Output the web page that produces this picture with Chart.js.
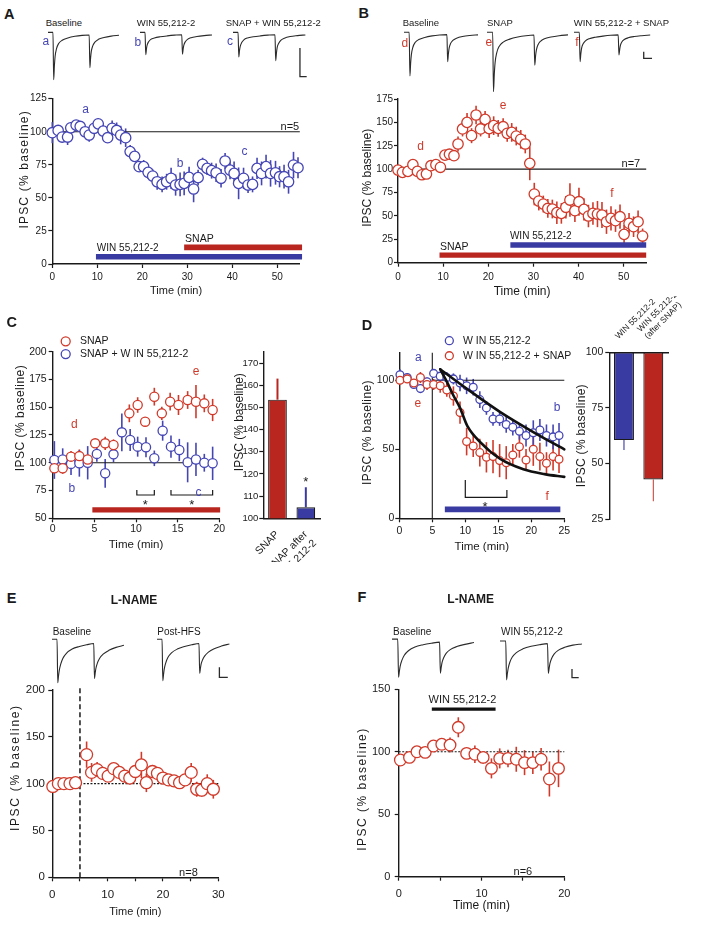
<!DOCTYPE html>
<html>
<head>
<meta charset="utf-8">
<title>IPSC figure</title>
<script src="https://cdn.jsdelivr.net/npm/chart.js@4.4.1/dist/chart.umd.min.js"></script>
<style>
  html, body { margin: 0; padding: 0; background: #fff; }
  #page { position: relative; width: 714px; height: 926px; overflow: hidden; background: #fff; font-family: 'Liberation Sans', Arial, Helvetica, sans-serif; color: #1a1a1a; }
  #page canvas { position: absolute; }
  .lbl { position: absolute; white-space: nowrap; line-height: 1; }
</style>
</head>
<body>
<div id="page"></div>
<script>
// ================= DATA =================
// Panel A : WIN 55,212-2 then SNAP (blue)
const aTime = [0,1.3,2.2,3.4,4.1,5.3,6.2,7.3,8.2,9.3,10.2,11.3,12.3,13.3,14.3,15.2,16.3,17.3,18.3,19.3,20.3,21.3,22.3,23.3,24.4,25.4,26.4,27.4,28.4,29.3,30.4,31.4,32.4,33.4,34.4,35.4,36.4,37.5,38.4,39.5,40.4,41.4,42.5,43.5,44.5,45.5,46.5,47.5,48.5,49.6,50.5,51.5,52.5,53.6,54.6];
const aIPSC = [99.3,101,96,96,103,105,104,100,97.5,102.6,106,100.5,95.5,102.6,101,97.5,95.5,85,81.4,73.6,73.6,69.3,66.5,62.2,60.2,62.2,64.8,59.7,60.2,61,65.5,56.7,65.3,75.4,72.3,70.6,69,64.8,77.9,71,68.5,61,64.8,59.7,60.2,72.3,68.5,73.6,68.5,69,66,66,62.2,74.8,72.8];
const aSEM = [8,4,4,6,4,3,4,3,5,4,4,5,4,6,6,7,7,5,4,4,5,5,5,6,6,6,8,8,9,9,8,10,6,5,5,6,7,7,6,7,9,12,8,6,6,8,9,9,10,9,8,9,9,10,8];
const aYTicks = [0,25,50,75,100,125];
const aXTicks = [0,10,20,30,40,50];
const aWinPeriod = [9.7, 55.5];
const aSnapPeriod = [29.3, 55.5];

// Panel B : SNAP then WIN 55,212-2 (red)
const bTime = [0,1,2.2,3.3,4.3,5.3,6.3,7.3,8.4,9.4,10.4,11.4,12.4,13.3,14.3,15.3,16.3,17.3,18.3,19.3,20.2,21.2,22.2,23.3,24.2,25.2,26.2,27.2,28.2,29.2,30.2,31.2,32.2,33.2,34.2,35.2,36.2,37.2,38.1,39.2,40.1,41.2,42.2,43.2,44.2,45.2,46.2,47.2,48.2,49.2,50.1,51.2,52.2,53.2,54.2];
const bIPSC = [99,96.6,97.6,104.8,97.6,94,94.8,103.7,104.8,102,115,116,114.4,126.9,143,150,135.8,157.9,143,153.2,143.3,146.5,143.6,145.4,138.3,139.3,135.4,131.9,126.9,106.2,73.4,65.9,62.7,58,57.4,53.5,52.7,59.2,67,55.6,65.2,57,49.9,52.7,52,51,43.8,47.4,44.9,49.2,30.3,42,38.5,43.8,28.5];
const bSEM = [4,4,3,4,4,5,4,4,4,4,4,5,5,8,8,10,8,10,8,9,10,10,9,9,9,10,10,10,10,18,12,10,9,10,10,12,11,12,18,12,15,12,12,12,14,14,13,13,12,13,10,11,11,12,8];
const bYTicks = [0,25,50,75,100,125,150,175];
const bXTicks = [0,10,20,30,40,50];
const bSnapPeriod = [9.2, 55];
const bWinPeriod = [24.9, 55];

// Panel C
const cSnapTime = [0.2,1.2,2.2,3.2,4.2,5.1,6.3,7.3,9.2,10.2,11.1,12.2,13.1,14.1,15.1,16.2,17.2,18.2,19.2];
const cSnapIPSC = [95,95,105.5,106,103,117.5,117.5,116,144.5,152,137,159.5,144.5,155,152,156.5,155,153.5,147.5];
const cSnapSEM = [4,5,5,6,5,4,6,5,8,7,4,8,6,8,9,8,15,8,10];
const cComboTime = [0.2,1.2,2.2,3.2,4.2,5.3,6.3,7.3,8.3,9.3,10.2,11.2,12.2,13.2,14.2,15.2,16.2,17.2,18.2,19.2];
const cComboIPSC = [102.5,103,99,99.5,100,108,90.5,107.6,127.4,120.5,114.5,114,104,128.9,114.5,111.5,100.4,103,100,99.5];
const cComboSEM = [17,10,10,12,15,7,13,7,17,10,9,9,7,9,10,10,18,15,8,15];
const cYTicks = [50,75,100,125,150,175,200];
const cXTicks = [0,5,10,15,20];
const cSnapPeriod = [4.76, 20.1];
const cCompare1 = [10.1, 12.2];
const cCompare2 = [14.2, 19.2];
// Panel C bars
const cBarLabels = ['SNAP', ['SNAP after', 'WIN 55,212-2']];
const cBarValues = [153.5, 105];
const cBarSEM = [9.5, 9];
const cBarTicks = [100,110,120,130,140,150,160,170];

// Panel D
const dTime = [0.1,1.2,2.2,3.2,4.2,5.2,6.2,7.2,8.2,9.2,10.2,11.2,12.2,13.2,14.2,15.2,16.2,17.2,18.2,19.2,20.3,21.3,22.3,23.3,24.2];
const dWinIPSC = [104,102,97,94,99,105,103,102,101,98,96,95,86,80,72,72,68,66,63,60,62,64,60,59,60];
const dWinSEM = [4,3,3,3,3,3,3,4,4,6,6,6,6,5,5,5,6,6,6,8,9,8,8,9,9];
const dWinSnapIPSC = [100,101,98,102,97,97,96,93,88.6,76.6,55.6,52.4,47.6,44.2,44.7,41.8,40.3,45.9,51.9,42.3,50,44.7,39.9,44.7,42.8];
const dWinSnapSEM = [3,3,3,4,4,4,5,5,7,8,10,8,10,11,12,12,12,8,8,8,12,10,8,10,10];
const dFitWinTime = [6.2,10.2,15.3,20.3,25];
const dFitWinIPSC = [108,94,77,62.5,50];
const dFitWinSnapTime = [6.2,7.2,8.2,9.2,10.3,12.3,15.3,18.8,22,25];
const dFitWinSnapIPSC = [108,99,89,80,67,55,43,35.5,32,30];
const dYTicks = [0,50,100];
const dXTicks = [0,5,10,15,20,25];
const dWinPeriod = [6.9, 24.4];
const dCompare = [10, 16.3];
// Panel D bars
const dBarLabels = ['WIN 55,212-2', ['WIN 55,212-2', '(after SNAP)']];
const dBarValues = [60.5, 42.8];
const dBarSEM = [4.5, 9.8];
const dBarTicks = [25,50,75,100];

// Panel E (L-NAME, HFS)
const eTime = [0.1,1.1,2.1,3.2,4.2,6.2,7.1,8.1,9.1,10.1,11.1,12.1,13.1,14,15,16.1,17,18.1,19,20,21,22,23,24,25.1,26.1,27,28,29.1];
const eIPSC = [97,100,100,100,101,131,112,115,111,108,116,112,108,106,113,120,101,113,111,106,104,103,101,104,112,94,93,100,94];
const eSEM = [3,3,3,3,3,14,10,8,7,6,6,6,6,6,5,14,10,7,6,6,6,6,6,5,10,8,7,10,10];
const eYTicks = [0,50,100,150,200];
const eXTicks = [0,5,10,15,20,25,30];
const eXLabels = [0,10,20,30];
const eHFSTime = 5;

// Panel F (L-NAME, WIN)
const fTime = [0.2,1.3,2.2,3.2,4.2,5.2,6.2,7.2,8.2,9.2,10.2,11.2,12.2,13.2,14.2,15.2,16.2,17.2,18.2,19.3];
const fIPSC = [93.4,95.5,100,99.5,104.6,106,105.4,119.6,98.7,98,95.5,86.7,94.7,94.7,94,91.3,91.3,94,78.2,86.7];
const fSEM = [3,3,3,3,3,4,6,8,4,7,5,8,8,7,10,10,9,9,14,15];
const fYTicks = [0,50,100,150];
const fXTicks = [0,5,10,15,20];
const fXLabels = [0,10,20];
const fWinPeriod = [4.0, 11.7];

// Example IPSC traces (paired pulses, relative current vs time in sweep)
const traceTime = [0,7,8,9,10,12,15,20,28,38,48,58,59,60,61,63,66,71,79,89,100];
const trA_a = [2,2,-100,-70,-50,-33,-22,-15,-10,-6.5,-4.5,-3.5,-74,-53,-39,-27,-19,-13,-9,-6,-4];
const trA_b = [2,2,-46,-33,-25,-18,-13,-10,-7.5,-5.5,-4,-3,-45,-33,-25,-18,-13,-9.5,-7,-5,-3.5];
const trA_c = [2,2,-51,-37,-28,-20,-14,-10,-7.5,-5.5,-4,-3,-59,-43,-31,-22,-15,-10.5,-7,-5,-3.5];
const trB_d = [2,2,-100,-70,-50,-33,-22,-15,-10,-6.5,-4.5,-3.5,-67,-48,-35,-24,-17,-12,-8,-5.5,-4];
const trB_e = [2,2,-137,-96,-69,-46,-31,-21,-14,-9,-6,-4.5,-75,-53,-39,-27,-19,-13,-9,-6,-4];
const trB_f = [2,2,-67,-48,-35,-25,-18,-13,-9.5,-7,-5,-4,-51,-38,-28,-20,-15,-11,-8,-6,-4.5];
const trE_base = [2,2,-100,-85,-72,-57,-43,-31,-21,-15,-11,-8,-90,-77,-66,-54,-43,-33,-24,-17,-12];
const trE_post = [2,2,-95,-81,-68,-54,-41,-30,-21,-15,-11,-8,-78,-66,-56,-46,-37,-28,-20,-14,-9];
const trF_base = [2,2,-100,-84,-70,-55,-41,-29,-19,-13,-9,-6,-89,-74,-61,-48,-36,-26,-18,-12,-7];
const trF_win = [-3,-3,-107,-90,-76,-60,-46,-34,-24,-17,-13,-10,-90,-76,-63,-50,-38,-28,-20,-14,-11];

// ================= STYLE =================
const FONT = "'Liberation Sans', Arial, Helvetica, sans-serif";
const INK = '#1a1a1a';
const BLUE = '#4545b4';
const RED = '#d03a2a';
const BLUE_BAR = '#3a3aa3';
const RED_BAR = '#b8261f';

// ---- patch: letter spacing / offset for axis titles ----
const _drawTitle = Chart.Scale.prototype.drawTitle;
Chart.Scale.prototype.drawTitle = function () {
  const ctx = this.ctx;
  ctx.save();
  if (this._ls) { try { ctx.letterSpacing = this._ls; } catch (e) {} }
  if (this._tdx || this._tdy) ctx.translate(this._tdx || 0, this._tdy || 0);
  _drawTitle.apply(this, arguments);
  ctx.restore();
};

// ---- plugin: error bars, notes, legend keys ----
const extras = {
  id: 'extras',
  beforeDatasetsDraw(chart) {
    const ctx = chart.ctx;
    chart.data.datasets.forEach((ds, i) => {
      if (!ds.errorBars) return;
      const meta = chart.getDatasetMeta(i);
      const ys = chart.scales[meta.yAxisID];
      ctx.save();
      ctx.lineWidth = ds.errorWidth || 1.6;
      meta.data.forEach((el, j) => {
        const e = ds.errorBars[j];
        if (!e) return;
        const raw = ds.data[j];
        const v = ds.errorValues ? ds.errorValues[j] : (typeof raw === 'object' ? raw.y : raw);
        const dir = ds.errorDir || 'both';
        const y1 = ys.getPixelForValue(dir === 'down' ? v : v + e);
        const y2 = ys.getPixelForValue(dir === 'up' ? v : v - e);
        ctx.strokeStyle = Array.isArray(ds.errorColor) ? ds.errorColor[j] : (ds.errorColor || ds.borderColor);
        ctx.beginPath();
        ctx.moveTo(el.x, y1);
        ctx.lineTo(el.x, y2);
        ctx.stroke();
      });
      ctx.restore();
    });
  },
  afterDatasetsDraw(chart, args, opts) {
    const ctx = chart.ctx, xs = chart.scales.x, ys = chart.scales.y;
    (opts.keys || []).forEach(k => {
      const px = xs.getPixelForValue(k.x), py = ys.getPixelForValue(k.y);
      ctx.save();
      ctx.beginPath();
      ctx.arc(px, py, k.r, 0, Math.PI * 2);
      ctx.fillStyle = '#fff';
      ctx.fill();
      ctx.lineWidth = 1.3;
      ctx.strokeStyle = k.color;
      ctx.stroke();
      ctx.font = k.size + 'px ' + FONT;
      ctx.fillStyle = INK;
      ctx.textAlign = 'left';
      ctx.textBaseline = 'middle';
      ctx.fillText(k.text, xs.getPixelForValue(k.tx), py);
      ctx.restore();
    });
    (opts.notes || []).forEach(n => {
      ctx.save();
      ctx.font = (n.bold ? 'bold ' : '') + (n.size || 11) + 'px ' + FONT;
      ctx.fillStyle = n.color || INK;
      ctx.textAlign = n.align || 'center';
      ctx.textBaseline = 'middle';
      ctx.fillText(n.text, xs.getPixelForValue(n.x), ys.getPixelForValue(n.y));
      ctx.restore();
    });
  }
};
Chart.register(extras);

// ================= HELPERS =================
const page = document.getElementById('page');
function addCanvas(box) {
  const c = document.createElement('canvas');
  c.width = box.w; c.height = box.h;
  c.style.left = box.x + 'px'; c.style.top = box.y + 'px';
  c.style.width = box.w + 'px'; c.style.height = box.h + 'px';
  page.appendChild(c);
  return c;
}
function pts(xs, ys) { return xs.map((x, i) => ({ x: x, y: ys[i] })); }
function seg(x0, x1, y) { return [{ x: x0, y: y }, { x: x1, y: y }]; }
function vseg(x, y0, y1) { return [{ x: x, y: y0 }, { x: x, y: y1 }]; }
function ptsDS(xs, ys, errs, color, r, order) {
  return { data: pts(xs, ys), errorBars: errs, borderColor: color, backgroundColor: '#fff',
    pointRadius: r, pointBorderWidth: 1.3, pointBackgroundColor: '#fff', pointBorderColor: color,
    showLine: false, clip: false, order: order };
}
function lineDS(data, color, width, extra) {
  return Object.assign({ data: data, borderColor: color, borderWidth: width, pointRadius: 0,
    showLine: true, fill: false, order: 5, borderCapStyle: 'butt', clip: false, tension: 0 }, extra || {});
}
function axisLin(o) {
  const vertical = o.pos === 'left';
  return {
    type: 'linear', position: o.pos, min: o.min, max: o.max,
    afterBuildTicks: s => { s.ticks = o.ticks.map(v => ({ value: v })); },
    afterFit: s => { if (vertical) s.width = o.fit; else s.height = o.fit; s._ls = o.ls || ''; s._tdy = o.tdy || 0; s._tdx = o.tdx || 0; },
    ticks: { autoSkip: false, maxRotation: 0, minRotation: 0, padding: o.pad, color: INK,
      font: { family: FONT, size: o.font }, callback: v => (o.labels.indexOf(v) >= 0 ? String(v) : '') },
    grid: { display: true, drawOnChartArea: false, drawTicks: true, tickLength: 4, tickWidth: 1.2, tickColor: INK, color: INK },
    border: { display: true, color: INK, width: 1.4 },
    title: { display: !!o.title, text: o.title, padding: 0, color: INK, font: { family: FONT, size: o.tsize } }
  };
}
function common(pad, scales, extrasOpts) {
  return { responsive: false, maintainAspectRatio: false, animation: false, events: [],
    layout: { padding: pad }, scales: scales,
    plugins: { legend: { display: false }, tooltip: { enabled: false }, extras: extrasOpts || {} } };
}
function panel(box, area, ax, datasets, extrasOpts) {
  const c = addCanvas(box);
  return new Chart(c, {
    type: 'scatter',
    data: { datasets: datasets },
    options: common({ left: 0, top: area.t - box.y, right: box.x + box.w - area.r, bottom: 0 }, {
      x: axisLin({ pos: 'bottom', min: ax.xMin, max: ax.xMax, ticks: ax.xTicks, labels: ax.xLabels || ax.xTicks,
        fit: box.y + box.h - area.b, pad: ax.xPad, font: ax.font, title: 'Time (min)', tsize: ax.xts }),
      y: axisLin({ pos: 'left', min: ax.yMin, max: ax.yMax, ticks: ax.yTicks, labels: ax.yLabels || ax.yTicks,
        fit: area.l - box.x, pad: ax.yPad, font: ax.font, title: 'IPSC (% baseline)', tsize: 12, ls: ax.ls, tdy: ax.tdy })
    }, extrasOpts)
  });
}
function trace(box, xMax, yMin, yMax, ys, bar) {
  const c = addCanvas(box);
  const ds = [{ data: pts(traceTime, ys), borderColor: '#2b2b2b', borderWidth: 1.1, pointRadius: 0,
    cubicInterpolationMode: 'monotone', fill: false }];
  if (bar) ds.push({ data: bar, borderColor: '#2b2b2b', borderWidth: 1.3, pointRadius: 0, fill: false, tension: 0 });
  new Chart(c, { type: 'line', data: { datasets: ds },
    options: { responsive: false, maintainAspectRatio: false, animation: false, events: [], layout: { padding: 0 },
      scales: { x: { type: 'linear', display: false, min: 0, max: xMax }, y: { type: 'linear', display: false, min: yMin, max: yMax } },
      plugins: { legend: { display: false }, tooltip: { enabled: false } } } });
}
function label(text, x, y, size, o) {
  o = o || {};
  const d = document.createElement('div');
  d.className = 'lbl';
  d.textContent = text;
  d.style.left = x + 'px'; d.style.top = y + 'px';
  d.style.fontSize = size + 'px';
  if (o.bold) d.style.fontWeight = 'bold';
  if (o.color) d.style.color = o.color;
  if (o.center) d.style.transform = 'translateX(-50%)';
  page.appendChild(d);
}

// ================= PANEL A =================
panel({ x: 17, y: 86, w: 297, h: 212 }, { l: 52.3, t: 98.7, r: 299.8, b: 264 },
  { xMin: 0, xMax: 55, xTicks: aXTicks, yMin: 0, yMax: 125, yTicks: aYTicks, font: 10, xPad: 3, yPad: 1.6, xts: 11, ls: '1.2px', tdy: -12 },
  [ ptsDS(aTime, aIPSC, aSEM, BLUE, 5.2, 0),
    lineDS(seg(0, 55, 100), INK, 1.1),
    lineDS(seg(aWinPeriod[0], aWinPeriod[1], 5.5), BLUE_BAR, 5.3),
    lineDS(seg(aSnapPeriod[0], aSnapPeriod[1], 12.6), RED_BAR, 5.6) ],
  { notes: [
    { text: 'a', x: 7.4, y: 117, color: BLUE, size: 12 },
    { text: 'b', x: 28.4, y: 76, color: BLUE, size: 12 },
    { text: 'c', x: 42.7, y: 85, color: BLUE, size: 12 },
    { text: 'n=5', x: 52.8, y: 104, size: 11 },
    { text: 'SNAP', x: 29.5, y: 19, size: 10.5, align: 'left' },
    { text: 'WIN 55,212-2', x: 9.9, y: 11.8, size: 10, align: 'left' } ] });

trace({ x: 48, y: 31, w: 71, h: 51 }, 100, -105, 5, trA_a);
trace({ x: 140, y: 31, w: 72, h: 51 }, 100, -105, 5, trA_b);
trace({ x: 233, y: 31, w: 76, h: 51 }, 105, -105, 5, trA_c,
  [{ x: 92.5, y: -31.7 }, { x: 92.5, y: -93.6 }, { x: 101.8, y: -93.6 }]);

// ================= PANEL B =================
panel({ x: 360, y: 86, w: 300, h: 213 }, { l: 398, t: 99, r: 646.2, b: 262.7 },
  { xMin: 0, xMax: 55, xTicks: bXTicks, yMin: 0, yMax: 175, yTicks: bYTicks, font: 10, xPad: 5, yPad: 1, xts: 12, tdy: -3 },
  [ ptsDS(bTime, bIPSC, bSEM, RED, 5.2, 0),
    lineDS(seg(0, 55, 100), INK, 1.1),
    lineDS(seg(bSnapPeriod[0], bSnapPeriod[1], 8.2), RED_BAR, 5.3),
    lineDS(seg(bWinPeriod[0], bWinPeriod[1], 18.9), BLUE_BAR, 5.3) ],
  { notes: [
    { text: 'd', x: 5, y: 124, color: RED, size: 12 },
    { text: 'e', x: 23.3, y: 167.5, color: RED, size: 12 },
    { text: 'f', x: 47.4, y: 74, color: RED, size: 12 },
    { text: 'n=7', x: 51.6, y: 106, size: 11 },
    { text: 'SNAP', x: 9.3, y: 17, size: 10.5, align: 'left' },
    { text: 'WIN 55,212-2', x: 24.8, y: 28, size: 10, align: 'left' } ] });

trace({ x: 404, y: 31, w: 74, h: 62 }, 100, -140, 5, trB_d);
trace({ x: 487, y: 31, w: 81, h: 62 }, 100, -140, 5, trB_e);
trace({ x: 574, y: 31, w: 80, h: 62 }, 105, -140, 5, trB_f,
  [{ x: 91.5, y: -43.5 }, { x: 91.5, y: -58.9 }, { x: 102.4, y: -58.9 }]);

// ================= PANEL C =================
function bracket(win, yLow, yHigh) {
  return [{ x: win[0], y: yHigh }, { x: win[0], y: yLow }, { x: win[1], y: yLow }, { x: win[1], y: yHigh }];
}
panel({ x: 13, y: 328, w: 219, h: 224 }, { l: 52.7, t: 351.7, r: 219.3, b: 518.3 },
  { xMin: 0, xMax: 20, xTicks: cXTicks, yMin: 50, yMax: 200, yTicks: cYTicks, font: 10.5, xPad: 1, yPad: 2, xts: 11.5, ls: '0.5px', tdy: -17 },
  [ ptsDS(cSnapTime, cSnapIPSC, cSnapSEM, RED, 4.6, 0),
    ptsDS(cComboTime, cComboIPSC, cComboSEM, BLUE, 4.6, 1),
    lineDS(seg(0, 19.5, 100), INK, 1.1),
    lineDS(seg(cSnapPeriod[0], cSnapPeriod[1], 57.5), RED_BAR, 5.3),
    lineDS(bracket(cCompare1, 71, 75.5), INK, 1.2),
    lineDS(bracket(cCompare2, 71, 75.5), INK, 1.2) ],
  { notes: [
    { text: 'd', x: 2.6, y: 134, color: RED, size: 12 },
    { text: 'b', x: 2.3, y: 77, color: BLUE, size: 12 },
    { text: 'e', x: 17.2, y: 182, color: RED, size: 12 },
    { text: 'c', x: 17.5, y: 73, color: BLUE, size: 12 },
    { text: '*', x: 11.1, y: 62, size: 13 },
    { text: '*', x: 16.7, y: 62, size: 13 } ],
    keys: [
    { x: 1.56, y: 209.3, tx: 3.28, r: 4.5, color: RED, text: 'SNAP', size: 10.5 },
    { x: 1.56, y: 197.9, tx: 3.28, r: 4.5, color: BLUE, text: 'SNAP + W IN 55,212-2', size: 10.5 } ] });

// ---- Panel C bars ----
(function () {
  const box = { x: 220, y: 340, w: 108, h: 222 }, area = { l: 263.3, t: 352, r: 320, b: 518.3 };
  const c = addCanvas(box);
  new Chart(c, {
    type: 'bar',
    data: { labels: cBarLabels, datasets: [{
      data: cBarValues, backgroundColor: [RED_BAR, BLUE_BAR], borderColor: INK, borderWidth: 1.2, borderSkipped: false,
      barPercentage: 0.66, categoryPercentage: 1, errorBars: cBarSEM, errorDir: 'up', errorColor: [RED_BAR, BLUE_BAR], errorWidth: 2 }] },
    options: common({ left: 0, top: area.t - box.y, right: box.x + box.w - area.r, bottom: 0 }, {
      x: { type: 'category', position: 'bottom',
        afterFit: s => { s.height = box.y + box.h - area.b; },
        ticks: { autoSkip: false, maxRotation: 45, minRotation: 45, padding: 2, color: INK, font: { family: FONT, size: 10.5 } },
        grid: { display: false }, border: { display: true, color: INK, width: 1.4 } },
      y: axisLin({ pos: 'left', min: 100, max: 175, ticks: cBarTicks, labels: cBarTicks, fit: area.l - box.x, pad: 1,
        font: 9.5, title: 'IPSC (% baseline)', tsize: 12, tdy: -13, tdx: 12 })
    }, { notes: [{ text: '*', x: 1, y: 116, size: 13 }] })
  });
})();

// ================= PANEL D =================
panel({ x: 360, y: 328, w: 220, h: 226 }, { l: 399.3, t: 352.7, r: 564.3, b: 518.3 },
  { xMin: 0, xMax: 25, xTicks: dXTicks, yMin: 0, yMax: 120, yTicks: dYTicks, font: 10.5, xPad: 3, yPad: 1, xts: 11.5, ls: '0.4px', tdy: -3 },
  [ lineDS(pts(dFitWinTime, dFitWinIPSC), '#111', 2.6, { order: -1, cubicInterpolationMode: 'monotone', borderCapStyle: 'round' }),
    lineDS(pts(dFitWinSnapTime, dFitWinSnapIPSC), '#111', 2.6, { order: -1, cubicInterpolationMode: 'monotone', borderCapStyle: 'round' }),
    ptsDS(dTime, dWinSnapIPSC, dWinSnapSEM, RED, 3.9, 0),
    ptsDS(dTime, dWinIPSC, dWinSEM, BLUE, 3.9, 1),
    lineDS(vseg(5, 0, 120), INK, 1.1),
    lineDS(seg(5, 25, 100), INK, 1.1),
    lineDS(seg(dWinPeriod[0], dWinPeriod[1], 6.5), BLUE_BAR, 5.7),
    lineDS([{ x: dCompare[0], y: 27.8 }, { x: dCompare[0], y: 15.2 }, { x: dCompare[1], y: 15.2 }, { x: dCompare[1], y: 20.5 }], INK, 1.2) ],
  { notes: [
    { text: 'a', x: 2.9, y: 116.7, color: BLUE, size: 12 },
    { text: 'e', x: 2.8, y: 83, color: RED, size: 12 },
    { text: 'b', x: 23.9, y: 80, color: BLUE, size: 12 },
    { text: 'f', x: 22.4, y: 16, color: RED, size: 12 },
    { text: '*', x: 13.0, y: 8, size: 13 } ],
    keys: [
    { x: 7.58, y: 128.7, tx: 9.65, r: 4, color: BLUE, text: 'W IN 55,212-2', size: 10.5 },
    { x: 7.58, y: 117.8, tx: 9.65, r: 4, color: RED, text: 'W IN 55,212-2 + SNAP', size: 10.5 } ] });

// ---- Panel D bars ----
(function () {
  const box = { x: 574, y: 296, w: 140, h: 236 }, area = { l: 609.3, t: 352.3, r: 668, b: 519 };
  const c = addCanvas(box);
  new Chart(c, {
    type: 'bar',
    data: { labels: dBarLabels, datasets: [{
      data: dBarValues.map(v => [v, 100]), backgroundColor: [BLUE_BAR, RED_BAR], borderColor: INK, borderWidth: 1.2, borderSkipped: false,
      barPercentage: 0.68, categoryPercentage: 1, errorBars: dBarSEM, errorValues: dBarValues, errorDir: 'down',
      errorColor: [BLUE_BAR, '#c84a40'], errorWidth: 1.1 }] },
    options: common({ left: 0, top: 0, right: box.x + box.w - area.r, bottom: box.y + box.h - area.b }, {
      x: { type: 'category', position: 'top',
        afterFit: s => { s.height = area.t - box.y; },
        ticks: { autoSkip: false, maxRotation: 45, minRotation: 45, padding: 3, color: INK, font: { family: FONT, size: 8.5 } },
        grid: { display: false }, border: { display: true, color: INK, width: 1.4 } },
      y: axisLin({ pos: 'left', min: 25, max: 100, ticks: dBarTicks, labels: dBarTicks, fit: area.l - box.x, pad: 2,
        font: 10.5, title: 'IPSC (% baseline)', tsize: 12, ls: '0.3px' })
    })
  });
})();

// ================= PANEL E =================
panel({ x: 8, y: 678, w: 224, h: 241 }, { l: 52.3, t: 690, r: 218.3, b: 877.3 },
  { xMin: 0, xMax: 30, xTicks: eXTicks, xLabels: eXLabels, yMin: 0, yMax: 200, yTicks: eYTicks, font: 11.5, xPad: 6.8, yPad: 3.3, xts: 11, ls: '1.7px', tdy: -16 },
  [ ptsDS(eTime, eIPSC, eSEM, RED, 6, 0),
    lineDS(vseg(eHFSTime, 0, 203), INK, 1.5, { borderDash: [5, 3] }),
    lineDS(seg(eHFSTime, 30, 100), INK, 1.2, { borderDash: [2, 1.5] }) ],
  { notes: [{ text: 'n=8', x: 24.6, y: 4.6, size: 11 }] });

trace({ x: 52, y: 638, w: 72, h: 49 }, 100, -110, 5, trE_base);
trace({ x: 157, y: 638, w: 76, h: 49 }, 105, -110, 5, trE_post,
  [{ x: 86.2, y: -63.8 }, { x: 86.2, y: -87.3 }, { x: 97.8, y: -87.3 }]);

// ================= PANEL F =================
panel({ x: 355, y: 678, w: 224, h: 235 }, { l: 398.7, t: 689.3, r: 564.3, b: 876.7 },
  { xMin: 0, xMax: 20, xTicks: fXTicks, xLabels: fXLabels, yMin: 0, yMax: 150, yTicks: fYTicks, font: 11, xPad: 6.7, yPad: 4.4, xts: 12, ls: '1.5px', tdy: 6 },
  [ ptsDS(fTime, fIPSC, fSEM, RED, 5.8, 0),
    lineDS(seg(0, 20, 100), INK, 1.2, { borderDash: [2, 1.5] }),
    lineDS(seg(fWinPeriod[0], fWinPeriod[1], 134.2), '#111', 3.3) ],
  { notes: [
    { text: 'n=6', x: 15, y: 3.9, size: 11 },
    { text: 'WIN 55,212-2', x: 7.7, y: 141.5, size: 11 } ] });

trace({ x: 392, y: 638, w: 82, h: 43 }, 100, -110, 5, trF_base);
trace({ x: 500, y: 638, w: 86, h: 43 }, 105, -110, 5, trF_win,
  [{ x: 87.9, y: -77.8 }, { x: 87.9, y: -101.1 }, { x: 96.1, y: -101.1 }]);

// ================= TEXT LABELS =================
label('A', 4, 7, 14.5, { bold: 1 });
label('B', 358.5, 6.2, 14.5, { bold: 1 });
label('C', 6.5, 314.6, 14.5, { bold: 1 });
label('D', 361.8, 317.9, 14.5, { bold: 1 });
label('E', 6.8, 590.9, 14.5, { bold: 1 });
label('F', 357.5, 589.9, 14.5, { bold: 1 });

label('Baseline', 45.7, 18, 9.5);
label('WIN 55,212-2', 136.7, 18, 9.5);
label('SNAP + WIN 55,212-2', 225.7, 18, 9.5);
label('a', 42.4, 34.6, 12, { color: BLUE });
label('b', 134.4, 35.8, 12, { color: BLUE });
label('c', 227, 34.6, 12, { color: BLUE });

label('Baseline', 402.7, 18, 9.5);
label('SNAP', 487, 18, 9.5);
label('WIN 55,212-2 + SNAP', 573.7, 18, 9.5);
label('d', 401.4, 36.8, 12, { color: RED });
label('e', 485.4, 35.6, 12, { color: RED });
label('f', 575.3, 35.8, 12, { color: RED });

label('L-NAME', 134, 594.1, 12, { bold: 1, center: 1 });
label('Baseline', 52.7, 626.8, 10);
label('Post-HFS', 157.3, 626.8, 10);

label('L-NAME', 470.7, 593.4, 12, { bold: 1, center: 1 });
label('Baseline', 393, 626.8, 10);
label('WIN 55,212-2', 501, 626.8, 10);
</script>
</body>
</html>
